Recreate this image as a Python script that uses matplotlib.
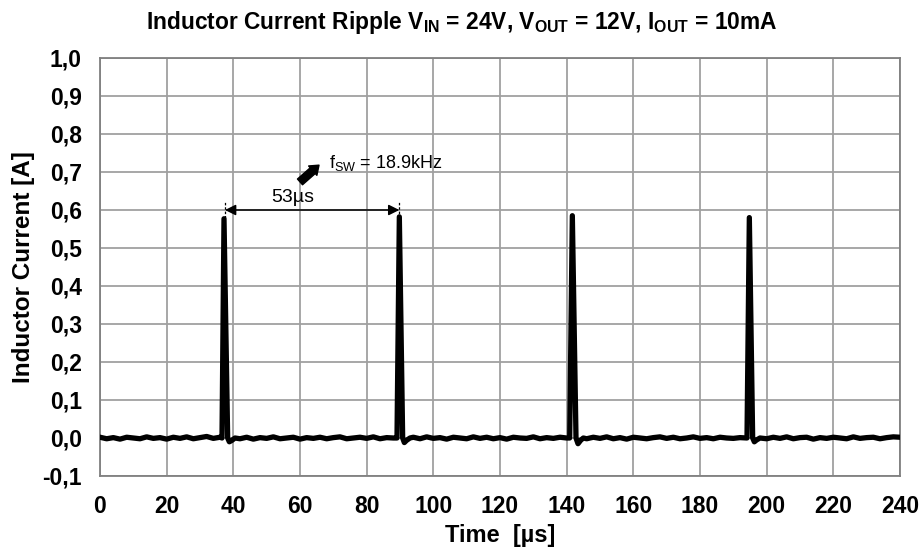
import matplotlib
matplotlib.use("Agg")
import matplotlib.pyplot as plt
from matplotlib import font_manager

plt.rcParams['font.family'] = ['Liberation Sans', 'DejaVu Sans']
plt.rcParams['mathtext.fontset'] = 'custom'
plt.rcParams['mathtext.rm'] = 'Liberation Sans'
plt.rcParams['mathtext.bf'] = 'Liberation Sans:bold'
plt.rcParams['mathtext.it'] = 'Liberation Sans:italic'

_names = {f.name for f in font_manager.fontManager.ttflist}
narrow = 'Liberation Sans Narrow' if 'Liberation Sans Narrow' in _names else None

# ---- data ----
base1_t = [0, 2, 4, 6, 8, 10, 12, 14, 16, 18, 20, 22, 24, 26, 28, 30, 32, 34, 36]
base1_i = [0.002, -0.002, 0.001, -0.003, 0.002, 0.000, -0.002, 0.003, -0.001, 0.001, -0.003, 0.002,
           -0.001, 0.003, -0.002, 0.001, 0.004, -0.001, 0.002]
pulse1_t = [36.6, 37.2, 38.3, 38.8, 39.6, 40.5]
pulse1_i = [0.000, 0.577, 0.000, -0.010, -0.006, 0.000]
base2_t = [42, 44, 46, 48, 50, 52, 54, 56, 58, 60, 62, 64, 66, 68, 70, 72, 74, 76, 78, 80, 82, 84, 86, 88]
base2_i = [-0.002, 0.002, -0.003, 0.001, -0.001, 0.003, -0.002, 0.000, 0.002, -0.003, 0.001, -0.001,
           0.002, -0.002, 0.001, 0.003, -0.002, 0.000, 0.002, -0.001, 0.003, -0.002, 0.001, 0.000]
pulse2_t = [89.1, 89.8, 90.8, 91.3, 92.0, 93.0]
pulse2_i = [0.000, 0.582, 0.000, -0.012, -0.006, 0.000]
base3_t = [94, 96, 98, 100, 102, 104, 106, 108, 110, 112, 114, 116, 118, 120, 122, 124, 126, 128,
           130, 132, 134, 136, 138, 140]
base3_i = [0.002, -0.002, 0.003, -0.001, 0.001, -0.003, 0.002, 0.000, -0.002, 0.003, -0.001, 0.002,
           -0.002, 0.001, -0.003, 0.002, 0.000, -0.001, 0.003, -0.002, 0.001, -0.001, 0.002, 0.000]
pulse3_t = [140.9, 141.7, 142.8, 143.4, 144.2, 145.0]
pulse3_i = [0.000, 0.585, 0.000, -0.015, -0.006, 0.000]
base4_t = [146, 148, 150, 152, 154, 156, 158, 160, 162, 164, 166, 168, 170, 172, 174, 176, 178, 180,
           182, 184, 186, 188, 190, 192]
base4_i = [-0.002, 0.002, -0.001, 0.003, -0.002, 0.001, -0.003, 0.002, 0.000, -0.002, 0.001, 0.003,
           -0.001, 0.002, -0.002, 0.000, 0.003, -0.001, 0.001, -0.002, 0.002, 0.000, -0.001, 0.001]
pulse4_t = [194.1, 194.8, 195.8, 196.3, 197.0, 198.0]
pulse4_i = [0.000, 0.580, 0.000, -0.010, -0.005, 0.000]
base5_t = [200, 202, 204, 206, 208, 210, 212, 214, 216, 218, 220, 222, 224, 226, 228, 230, 232, 234,
           236, 238, 240]
base5_i = [-0.002, 0.002, -0.001, 0.003, -0.002, 0.001, 0.002, -0.003, 0.001, -0.001, 0.002, 0.000,
           -0.002, 0.003, -0.001, 0.001, 0.002, -0.002, 0.001, 0.003, 0.002]

time_us = base1_t + pulse1_t + base2_t + pulse2_t + base3_t + pulse3_t + base4_t + pulse4_t + base5_t
current_A = base1_i + pulse1_i + base2_i + pulse2_i + base3_i + pulse3_i + base4_i + pulse4_i + base5_i

x_ticks = [0, 20, 40, 60, 80, 100, 120, 140, 160, 180, 200, 220, 240]
x_tick_labels = ['0', '20', '40', '60', '80', '100', '120', '140', '160', '180', '200', '220', '240']
y_ticks = [-0.1, 0.0, 0.1, 0.2, 0.3, 0.4, 0.5, 0.6, 0.7, 0.8, 0.9, 1.0]
y_tick_labels = ['-0,1', '0,0', '0,1', '0,2', '0,3', '0,4', '0,5', '0,6', '0,7', '0,8', '0,9', '1,0']

period_start = 37.5
period_end = 89.8
period_level = 0.6
marker_top = 0.62
period_label = '53µs'
fsw_label = r'$\mathrm{f_{SW}}$ = 18.9kHz'

fig = plt.figure(figsize=(9.23, 5.51), dpi=100)
ax = fig.add_axes([100 / 923, 1 - 476 / 551, 800 / 923, 418 / 551])

ax.plot(time_us, current_A, color='black', lw=3.8, solid_joinstyle='round', zorder=3)

ax.set_xlim(0, 240)
ax.set_ylim(-0.1, 1.0)
ax.set_xticks(x_ticks, labels=x_tick_labels)
ax.set_yticks(y_ticks, labels=y_tick_labels)
ax.tick_params(length=0, labelsize=16.5)
ax.tick_params(axis='x', pad=14)
ax.tick_params(axis='y', pad=13)
for lab in ax.get_xticklabels() + ax.get_yticklabels():
    lab.set_fontweight('bold')
ax.grid(True, color='#a0a0a0', lw=1.3)
ax.set_axisbelow(True)
for s in ax.spines.values():
    s.set_color('#808080')
    s.set_linewidth(1.3)

ax.set_xlabel('Time  [µs]', fontsize=17, fontweight='bold', labelpad=4)
ax.set_ylabel('Inductor Current [A]', fontsize=17.5, fontweight='bold', labelpad=5)

title_txt = r'Inductor Current Ripple V$\mathbf{_{IN}}$ = 24V, V$\mathbf{_{OUT}}$ = 12V, I$\mathbf{_{OUT}}$ = 10mA'
if narrow:
    plt.rcParams['mathtext.bf'] = 'Liberation Sans Narrow:bold'
    fig.text(0.5, 1 - 22 / 551, title_txt, ha='center', va='center', fontsize=20,
             fontweight='bold', family=[narrow, 'Liberation Sans'])
else:
    fig.text(0.5, 1 - 22 / 551, title_txt, ha='center', va='center', fontsize=16.4,
             fontweight='bold')

# annotations
ax.plot([period_start, period_start], [0.58, marker_top], color='black', lw=0.9, ls=(0, (2, 1.5)), zorder=4)
ax.plot([period_end, period_end], [0.58, marker_top], color='black', lw=0.9, ls=(0, (2, 1.5)), zorder=4)
ax.annotate('', xy=(period_start, period_level), xytext=(period_end, period_level),
            arrowprops=dict(arrowstyle='<|-|>', color='black', lw=1.1, mutation_scale=16,
                            shrinkA=0, shrinkB=0), zorder=4)
ax.text(57.9, 0.634, period_label, ha='center', va='center', fontsize=14)
ax.annotate('', xy=(65.7, 0.718), xytext=(60.0, 0.674),
            arrowprops=dict(arrowstyle='simple,head_length=0.6,head_width=0.9,tail_width=0.55',
                            color='black', shrinkA=0, shrinkB=0), zorder=4)
ax.text(68.8, 0.724, fsw_label, ha='left', va='center', fontsize=13)

fig.savefig('out.png', dpi=100)
